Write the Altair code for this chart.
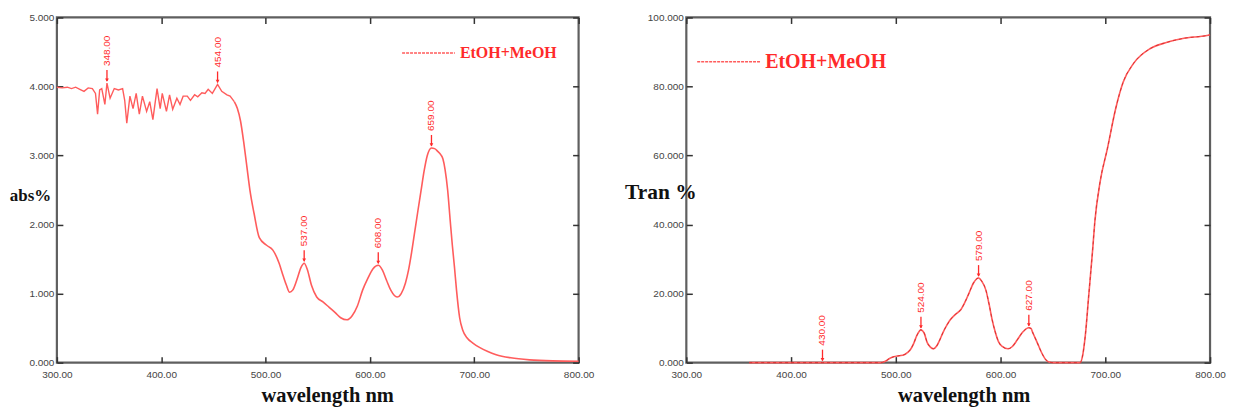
import altair as alt
import pandas as pd

# ---------------- data ----------------
left_wl = [300, 305, 310, 314, 318, 322, 326, 330, 334, 337, 339, 341, 343, 346, 348, 351, 355, 359,
           363, 365, 367, 370, 373, 376, 379, 382, 386, 389, 392, 396, 399, 401, 405, 408, 411, 415,
           418, 421, 425, 428, 432, 435, 439, 442, 445, 449, 454, 458, 463, 466, 470, 473, 476, 479,
           482, 485, 489, 494, 501, 507, 513, 517, 520, 523, 526, 530, 534, 537, 540, 544, 549, 555,
           561, 567, 572, 578, 583, 588, 593, 598, 603, 608, 612, 616, 620, 626, 630, 634, 637, 640,
           643, 646, 649, 652, 655, 659, 662, 665, 668, 670, 672, 674.5, 677, 679, 681, 683, 686, 689,
           693, 699, 705, 713, 721, 735, 753, 775, 800]
left_abs = [3.99, 3.98, 3.99, 3.97, 3.99, 3.96, 3.93, 3.98, 3.97, 3.90, 3.60, 3.95, 3.97, 3.74, 4.05,
            3.83, 3.97, 3.95, 3.97, 3.80, 3.47, 3.86, 3.68, 3.90, 3.60, 3.86, 3.64, 3.78, 3.52, 3.97,
            3.68, 3.90, 3.64, 3.88, 3.67, 3.83, 3.74, 3.86, 3.86, 3.80, 3.88, 3.85, 3.91, 3.90, 3.96,
            3.90, 4.03, 3.93, 3.88, 3.86, 3.78, 3.68, 3.50, 3.20, 2.85, 2.50, 2.16, 1.81, 1.70, 1.63,
            1.44, 1.25, 1.12, 1.02, 1.05, 1.20, 1.38, 1.44, 1.35, 1.12, 0.95, 0.88, 0.80, 0.72, 0.65,
            0.62, 0.68, 0.82, 1.05, 1.22, 1.36, 1.41, 1.34, 1.19, 1.05, 0.95, 1.00, 1.15, 1.34, 1.60,
            1.90, 2.20, 2.49, 2.78, 3.00, 3.11, 3.10, 3.06, 3.01, 2.95, 2.80, 2.50, 2.05, 1.70, 1.39,
            1.05, 0.65, 0.47, 0.36, 0.28, 0.22, 0.16, 0.115, 0.07, 0.04, 0.025, 0.02]
noise_end_wl = 470  # the noisy part of the absorbance trace (drawn with straight segments)

right_wl = [360, 400, 430, 470, 486, 490, 494, 498, 503, 508, 511, 514, 517, 520, 524, 527, 530, 533,
            536, 539, 542, 545, 549, 552, 557, 562, 566, 570, 574, 579, 582, 586, 589, 592, 595, 598,
            602, 607, 611, 616, 621, 627, 629, 631, 635, 639, 643, 647, 650, 676, 678, 681, 684, 688,
            690, 695, 702, 710, 717, 727, 743, 759, 774, 797, 800]
right_tran = [0, 0, 0, 0, 0, 0.4, 1.2, 1.7, 2.0, 2.3, 2.9, 3.8, 5.5, 7.8, 9.5, 8.6, 5.8, 4.5, 4.0,
              4.8, 6.6, 8.7, 11.0, 12.4, 14.0, 15.3, 17.5, 20.2, 23.0, 24.5, 23.6, 21.0, 17.0, 12.4,
              8.8, 6.1, 4.6, 4.0, 4.6, 6.6, 8.8, 10.1, 9.9, 8.5, 5.8, 3.0, 0.9, 0.1, 0, 0, 1.5, 8.1,
              18.8, 33.0, 40.8, 52.3, 62.0, 73.7, 81.2, 86.7, 91.0, 92.8, 93.9, 94.8, 95.0]

left_peak_wl = [348, 454, 537, 608, 659]
left_peak_val = [4.05, 4.03, 1.44, 1.41, 3.11]
left_peak_lbl = ["348.00", "454.00", "537.00", "608.00", "659.00"]

right_peak_wl = [430, 524, 579, 627]
right_peak_val = [0.0, 9.5, 24.5, 10.1]
right_peak_lbl = ["430.00", "524.00", "579.00", "627.00"]

x_ticks = [300, 400, 500, 600, 700, 800]
left_y_ticks = [0, 1, 2, 3, 4, 5]
right_y_ticks = [0, 20, 40, 60, 80, 100]
series_name = "EtOH+MeOH"

RED = "#ff2a2a"
LINE_RED = "#ff5c5c"
FRAME = "#5f5f5f"
LABEL_FONT = "Liberation Sans"
SERIF = "Liberation Serif"


def panel(wl, vals, pk_wl, pk_val, pk_lbl, ydom, yticks, ytitle, ytitle_size, ytitle_x, ytitle_y,
          xtitle_x, leg_x, leg_y, leg_size, leg_sym, dashed_overlay, split_wl, W, H):
    df = pd.DataFrame({"wl": wl, "v": vals, "series": series_name})
    pk = pd.DataFrame({"wl": pk_wl, "v": pk_val, "lbl": pk_lbl})
    xs = alt.Scale(domain=[300, 800], nice=False, zero=False)
    ys = alt.Scale(domain=ydom, nice=False, zero=False)

    smooth_df = df if split_wl is None else df[df.wl >= split_wl]
    line = alt.Chart(smooth_df).mark_line(strokeWidth=1.6, interpolate="monotone").encode(
        x=alt.X("wl:Q", scale=xs, axis=alt.Axis(
            orient="bottom", values=x_ticks, format=".2f", offset=-6, tickSize=6, tickWidth=1.5,
            tickColor="#333", domain=False, grid=False, labelPadding=7, labelFont=LABEL_FONT,
            labelFontSize=10, labelColor="#444", labelFlush=False,
            title="wavelength nm", titleFont=SERIF, titleFontSize=20.5, titleFontWeight="bold",
            titleColor="#111", titleX=xtitle_x, titleY=45, titleAlign="center",
            titleBaseline="alphabetic")),
        y=alt.Y("v:Q", scale=ys, axis=alt.Axis(
            orient="left", values=yticks, format=".3f", offset=-6, tickSize=6, tickWidth=1.5,
            tickColor="#333", domain=False, grid=False, labelPadding=3, labelFont=LABEL_FONT,
            labelFontSize=10, labelColor="#444", labelFlush=False,
            title=ytitle, titleFont=SERIF, titleFontSize=ytitle_size, titleFontWeight="bold",
            titleColor="#111", titleAngle=0, titleX=ytitle_x, titleY=ytitle_y, titleAlign="center",
            titleBaseline="middle")),
        color=alt.Color("series:N", scale=alt.Scale(range=[LINE_RED]), legend=alt.Legend(
            orient="none", legendX=leg_x, legendY=leg_y, title=None, symbolType="stroke",
            symbolSize=leg_sym, symbolStrokeWidth=1.5, symbolDash=[3, 1], padding=0,
            labelFont=SERIF, labelFontWeight="bold", labelFontSize=leg_size, labelColor=RED,
            labelOffset=4)),
    )
    layers = [line]
    if split_wl is not None:
        layers.append(alt.Chart(df[df.wl <= split_wl]).mark_line(
            strokeWidth=1.4, interpolate="linear", color=LINE_RED).encode(
            x=alt.X("wl:Q", scale=xs, axis=None), y=alt.Y("v:Q", scale=ys, axis=None)))
    if dashed_overlay:
        layers.append(alt.Chart(df).mark_line(strokeWidth=1, interpolate="monotone",
                                              strokeDash=[3, 3], color="#c81e1e", opacity=0.7).encode(
            x=alt.X("wl:Q", scale=xs, axis=None), y=alt.Y("v:Q", scale=ys, axis=None)))

    rules = alt.Chart(pk).mark_rule(color=RED, strokeWidth=1.3, yOffset=-2, y2Offset=-13).encode(
        x=alt.X("wl:Q", scale=xs, axis=alt.Axis(
            orient="top", values=x_ticks, labels=False, domain=False, grid=False, offset=-6,
            tickSize=6, tickWidth=1.5, tickColor="#333", title=None, minExtent=0, maxExtent=0)),
        y=alt.Y("v:Q", scale=ys, axis=alt.Axis(
            orient="right", values=yticks, labels=False, domain=False, grid=False, offset=-6,
            tickSize=6, tickWidth=1.5, tickColor="#333", title=None, minExtent=0, maxExtent=0)),
        y2="v:Q",
    )
    arrows = alt.Chart(pk).mark_point(shape="triangle-down", filled=True, size=14, color=RED,
                                      opacity=1, yOffset=-3).encode(
        x=alt.X("wl:Q", scale=xs, axis=None), y=alt.Y("v:Q", scale=ys, axis=None))
    texts = alt.Chart(pk).mark_text(angle=270, align="left", baseline="middle", dx=17,
                                    font=LABEL_FONT, fontSize=10, color=RED).encode(
        x=alt.X("wl:Q", scale=xs, axis=None), y=alt.Y("v:Q", scale=ys, axis=None), text="lbl:N")
    layers += [rules, arrows, texts]
    return alt.layer(*layers).resolve_axis(x="independent", y="independent").properties(
        width=W, height=H, view=alt.ViewBackground(stroke=FRAME, strokeWidth=2.2))


left = panel(left_wl, left_abs, left_peak_wl, left_peak_val, left_peak_lbl, [0, 5], left_y_ticks,
             "abs%", 17, -33, 178, 271, 345, 8, 16, 2800, False, noise_end_wl, 523, 346)
right = panel(right_wl, right_tran, right_peak_wl, right_peak_val, right_peak_lbl, [0, 100],
              right_y_ticks, "Tran %", 21.5, -32, 175, 278, 10, 12, 20, 4000, True, None, 525, 346)

chart = alt.hconcat(left, right, spacing=27).resolve_scale(color="independent").properties(
    padding={"left": 0, "top": 2, "right": 0, "bottom": 0}
).configure_view(stroke=FRAME, strokeWidth=2.2)

chart.save("out.html", embed_options={"renderer": "svg", "actions": False})
